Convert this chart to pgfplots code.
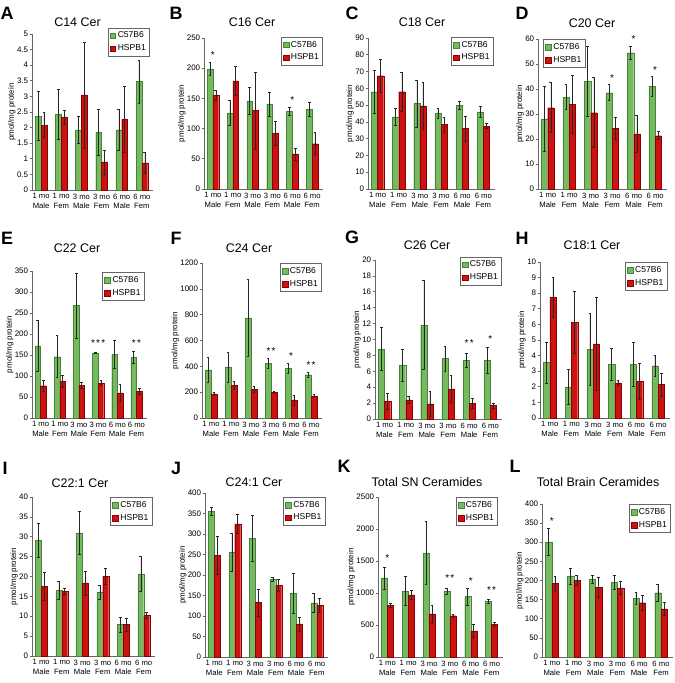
\documentclass[border=0pt]{standalone}
\usepackage{pgfplots}
\pgfplotsset{compat=1.18}
\usepackage{pgfplotstable}
\usepackage{fontspec}
\setmainfont{Liberation Sans}
\definecolor{gfill}{RGB}{118,186,96}
\definecolor{gedge}{RGB}{70,130,55}
\definecolor{rfill}{RGB}{205,18,18}
\definecolor{redge}{RGB}{140,0,0}

\pgfplotstableread{
x g ge r re
0 2.37 0.79 2.08 0.40
1 2.42 0.80 2.34 0.23
2 1.93 0.43 3.05 1.70
3 1.85 0.75 0.90 0.38
4 1.93 0.66 2.26 1.06
5 3.48 0.69 0.87 0.33
}\dA
\pgfplotstableread{
x g ge r re
0 199 11 155 8
1 126 21 179 24
2 146 22 130 64
3 141 20 92 20
4 129 7 58 10
5 132 11 75 19
}\dB
\pgfplotstableread{
x g ge r re
0 58 13 67.5 10
1 43 5 58 11.5
2 51 14 49.5 14
3 45 3 38.5 4.5
4 50 2.5 36 7.5
5 46 3.5 37.5 1.5
}\dC
\pgfplotstableread{
x g ge r re
0 28 13 32.5 10
1 36.7 5 33.8 11.5
2 43 14 30.5 14
3 38.5 3.2 24.2 4.4
4 54.5 2.5 22 7.5
5 41 4 21.3 1.6
}\dD
\pgfplotstableread{
x g ge r re
0 172 61 77 14
1 146 50 87 14
2 268 77 78 8
3 155 2 83 6
4 151 33 60 20
5 145 15 64 7
}\dE
\pgfplotstableread{
x g ge r re
0 372 97 187 10
1 395 115 252 30
2 773 298 220 22
3 425 37 198 10
4 383 40 140 38
5 335 20 170 10
}\dF
\pgfplotstableread{
x g ge r re
0 8.8 2.7 2.25 1.0
1 6.8 2.0 2.4 0.45
2 11.8 5.6 1.9 1.55
3 7.6 1.6 3.8 1.7
4 7.4 0.85 1.95 0.6
5 7.4 1.65 1.7 0.3
}\dG
\pgfplotstableread{
x g ge r re
0 3.55 1.3 7.75 1.3
1 2.0 1.1 6.15 2.0
2 4.4 2.3 4.75 3.0
3 3.45 1.05 2.25 0.15
4 3.45 1.4 2.35 1.15
5 3.35 0.65 2.15 0.75
}\dH
\pgfplotstableread{
x g ge r re
0 29.2 4.3 17.5 3.5
1 16.5 2.2 16.3 0.8
2 31 5.3 18.4 3.0
3 16.1 1.8 20 2.0
4 7.9 1.9 7.9 1.7
5 20.6 4.4 10.2 0.8
}\dI
\pgfplotstableread{
x g ge r re
0 355 10 248 47
1 256 46 325 24
2 289 56 133 33
3 189 5 175 14
4 155 49 81 17
5 132 23 126 17
}\dJ
\pgfplotstableread{
x g ge r re
0 1235 170 805 35
1 1035 230 970 75
2 1625 495 675 140
3 1030 50 645 20
4 945 130 410 105
5 870 30 515 35
}\dK
\pgfplotstableread{
x g ge r re
0 301 35 193 19
1 212 21 201 14
2 204 10 182 26
3 195 18 181 18
4 154 16 142 19
5 168 21 126 16
}\dL

\pgfplotsset{
 panel/.style={
  scale only axis, anchor=south west,
  ybar=0pt, bar width=0.29,
  xmin=-0.45, xmax=5.55, ymin=0,
  axis x line=bottom, axis y line=left,
  axis line style={-, black!60, line width=0.6pt},
  xtick={0,1,2,3,4,5},
  xticklabels={{1 mo\\Male},{1 mo\\Fem},{3 mo\\Male},{3 mo\\Fem},{6 mo\\Male},{6 mo\\Fem}},
  xticklabel style={align=center, font=\fontsize{7.7}{9.4}\selectfont, inner sep=1pt},
  x tick style={draw=none},
  y tick style={black!60, line width=0.6pt},
  tick align=outside, major tick length=2.5pt,
  yticklabel style={font=\fontsize{8}{9}\selectfont, inner sep=1.2pt},
  /pgf/number format/assume math mode=true,
  /pgf/number format/1000 sep={},
  scaled y ticks=false,
  ylabel={pmol/mg protein},
  ylabel style={font=\fontsize{8}{9}\selectfont, inner sep=0pt},
  legend style={at={(1,1)}, anchor=north east, draw=black!60, line width=0.6pt,
    font=\fontsize{8.6}{10}\selectfont, inner sep=1.8pt, row sep=1.5pt},
  legend cell align=left,
  legend image code/.code={\fill[##1] (0pt,-2.9pt) rectangle (5.8pt,2.9pt);},
  error bars/y dir=both, error bars/y explicit,
  error bars/error bar style={black!85, line width=0.5pt},
  error bars/error mark options={rotate=90, black!85, mark size=1.4pt, line width=0.5pt},
  clip=false,
 },
 gbar/.style={fill=gfill, draw=gedge, line width=0.3pt},
 rbar/.style={fill=rfill, draw=redge, line width=0.3pt},
}
\newcommand{\bars}[1]{%
  \addplot[gbar] table[x=x,y=g,y error=ge]{#1};
  \addplot[rbar] table[x=x,y=r,y error=re]{#1};
  \legend{C57B6,HSPB1}}
\newcommand{\st}[3]{\node[font=\fontsize{10}{10}\selectfont, inner sep=0pt] at (axis cs:#1,#2) {#3};}
\newcommand{\ttl}[3]{\node[font=\fontsize{12.5}{13}\selectfont] at (#1bp,#2bp) {#3};}
\newcommand{\lt}[3]{\node[font=\fontsize{18}{18}\selectfont\bfseries] at (#1bp,#2bp) {#3};}

\begin{document}
\begin{tikzpicture}
\useasboundingbox (0,0) rectangle (675bp,683bp);

% Row 1
\begin{axis}[panel, at={(32bp,493bp)}, width=121bp, height=156bp, ymax=5,
  ytick={0,0.5,1,1.5,2,2.5,3,3.5,4,4.5,5}, legend style={at={(0.975,1.04)}}]
\bars{\dA}
\end{axis}
\begin{axis}[panel, at={(204bp,494bp)}, width=119bp, height=151bp, ymax=250,
  ytick={0,50,100,150,200,250}, legend style={at={(1.0,1.007)}}]
\bars{\dB}
\st{0}{221}{*}\st{4}{148}{*}
\end{axis}
\begin{axis}[panel, at={(368bp,494bp)}, width=127bp, height=151bp, ymax=90,
  ytick={0,10,20,30,40,50,60,70,80,90}, legend style={at={(0.99,1.007)}}]
\bars{\dC}
\end{axis}
\begin{axis}[panel, at={(538bp,494bp)}, width=129bp, height=150bp, ymax=60,
  ytick={0,10,20,30,40,50,60}, legend style={at={(0.04,1.0)}, anchor=north west}]
\bars{\dD}
\st{3}{44.5}{*}\st{4}{60}{*}\st{5}{47.6}{*}
\end{axis}

% Row 2
\begin{axis}[panel, at={(32bp,265bp)}, width=115bp, height=147bp, ymax=350,
  ytick={0,50,100,150,200,250,300,350}, legend style={at={(0.98,0.99)}}]
\bars{\dE}
\st{3}{178}{*\kern1.2pt*\kern1.2pt*}\st{5}{178}{*\kern1.2pt*}
\end{axis}
\begin{axis}[panel, at={(202bp,265bp)}, width=120bp, height=155bp, ymax=1200,
  ytick={0,200,400,600,800,1000,1200}, legend style={at={(1.0,1.0)}}]
\bars{\dF}
\st{3}{516}{*\kern1.2pt*}\st{4}{483}{*}\st{5}{413}{*\kern1.2pt*}
\end{axis}
\begin{axis}[panel, at={(375bp,264bp)}, width=127bp, height=159bp, ymax=20,
  ytick={0,2,4,6,8,10,12,14,16,18,20}, legend style={at={(1.0,1.02)}}]
\bars{\dG}
\st{4}{9.5}{*\kern1.2pt*}\st{5}{10}{*}
\end{axis}
\begin{axis}[panel, at={(540bp,265bp)}, width=130bp, height=156bp, ymax=10,
  ytick={0,1,2,3,4,5,6,7,8,9,10}, legend style={at={(0.98,1.0)}}]
\bars{\dH}
\end{axis}

% Row 3
\begin{axis}[panel, at={(32bp,27bp)}, width=123bp, height=159bp, ymax=40,
  ytick={0,5,10,15,20,25,30,35,40}, legend style={at={(0.98,1.0)}}]
\bars{\dI}
\end{axis}
\begin{axis}[panel, at={(205bp,26bp)}, width=123bp, height=164bp, ymax=400,
  ytick={0,50,100,150,200,250,300,350,400}, legend style={at={(0.98,0.976)}}]
\bars{\dJ}
\end{axis}
\begin{axis}[panel, at={(378bp,26bp)}, width=125bp, height=160bp, ymax=2500,
  ytick={0,500,1000,1500,2000,2500}, legend style={at={(0.96,1.0)}}]
\bars{\dK}
\st{0}{1547}{*}\st{3}{1234}{*\kern1.2pt*}\st{4}{1182}{*}\st{5}{1052}{*\kern1.2pt*}
\end{axis}
\begin{axis}[panel, at={(542bp,26bp)}, width=131bp, height=153bp, ymax=400,
  ytick={0,50,100,150,200,250,300,350,400}, legend style={at={(0.985,1.0)}}]
\bars{\dL}
\st{0}{355}{*}
\end{axis}

% Titles
\ttl{77.5}{661}{C14 Cer}
\ttl{252}{661}{C16 Cer}
\ttl{422}{661}{C18 Cer}
\ttl{592}{660}{C20 Cer}
\ttl{77}{435}{C22 Cer}
\ttl{249}{435}{C24 Cer}
\ttl{427}{438}{C26 Cer}
\ttl{592}{438}{C18:1 Cer}
\ttl{80}{200}{C22:1 Cer}
\ttl{254}{201}{C24:1 Cer}
\ttl{427}{201}{Total SN Ceramides}
\ttl{598}{201}{Total Brain Ceramides}

% Panel letters
\lt{7}{670}{A}
\lt{176}{670}{B}
\lt{352}{670}{C}
\lt{522}{670}{D}
\lt{7}{445}{E}
\lt{176}{445}{F}
\lt{352}{446}{G}
\lt{522}{445}{H}
\lt{5}{215}{I}
\lt{176}{215}{J}
\lt{344}{217}{K}
\lt{515}{217}{L}
\end{tikzpicture}
\end{document}
